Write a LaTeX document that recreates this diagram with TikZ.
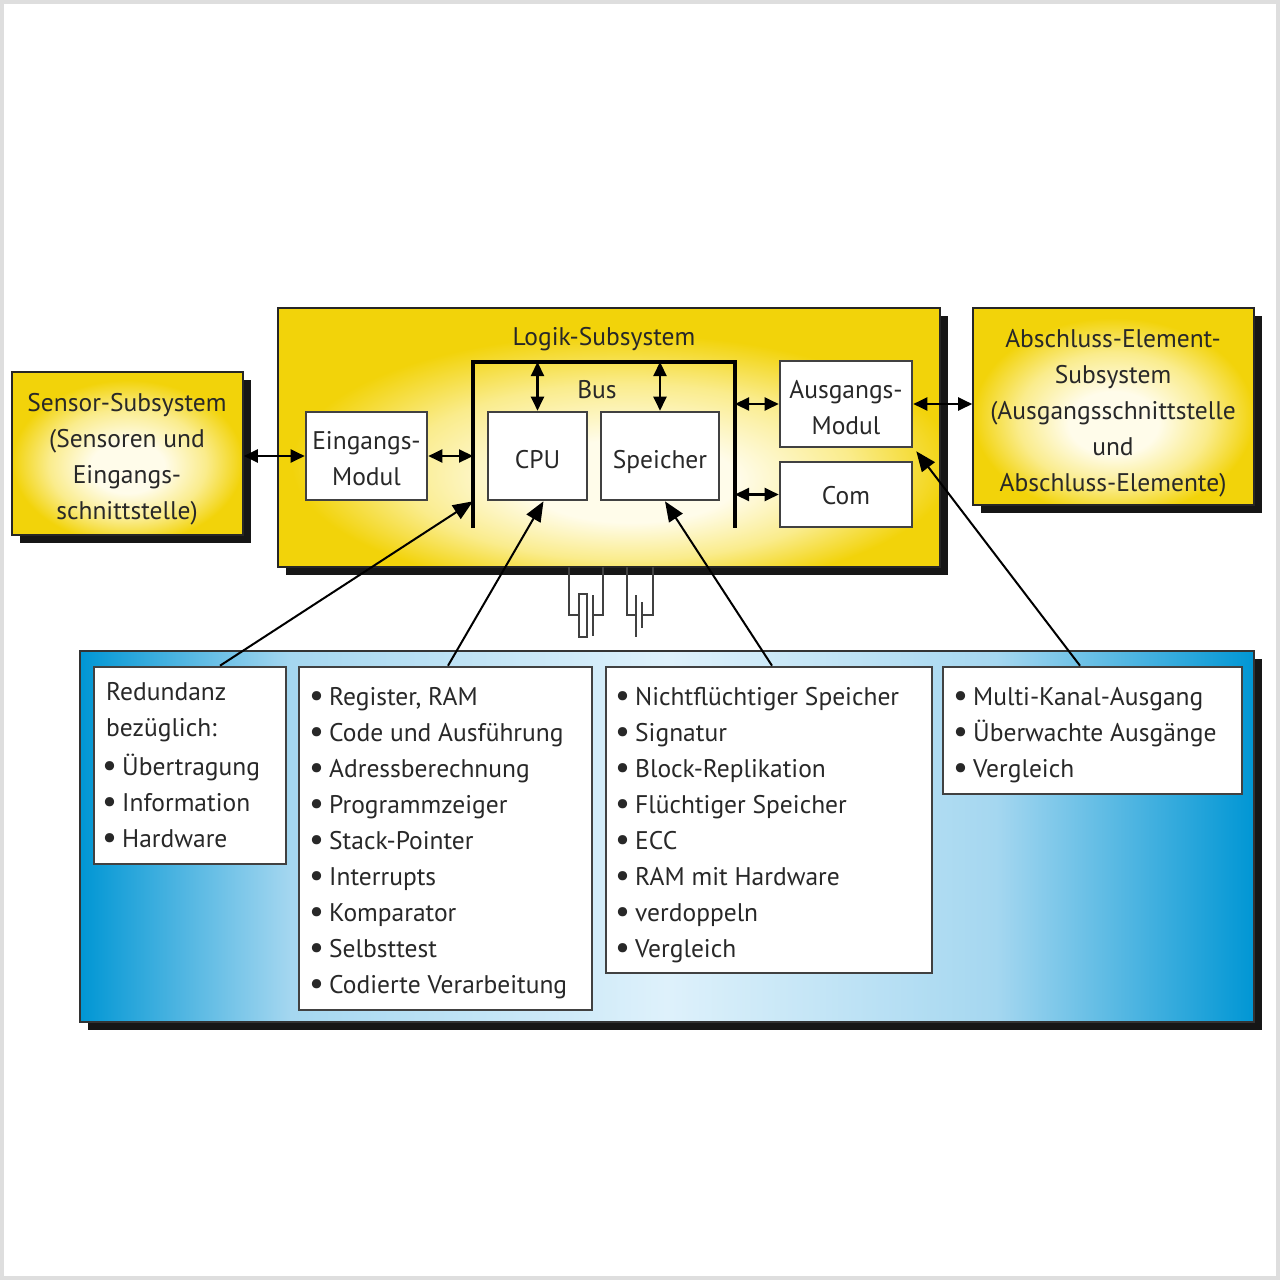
\documentclass[tikz,border=0pt]{standalone}
\usepackage{fontspec}
\setmainfont{PT Sans}
\usetikzlibrary{arrows.meta,shadows,calc}
\definecolor{yedge}{RGB}{242,211,10}
\definecolor{ymid}{RGB}{250,236,140}
\definecolor{ycen}{RGB}{255,252,234}
\definecolor{bedge}{RGB}{0,150,212}
\definecolor{bmid}{RGB}{165,215,240}
\definecolor{bcen}{RGB}{222,241,251}
\definecolor{txt}{RGB}{40,40,40}
\definecolor{framec}{RGB}{222,222,222}
\definecolor{boxline}{RGB}{65,65,65}
\definecolor{shadowc}{RGB}{22,22,22}
\pgfdeclareradialshading{yelsh}{\pgfpoint{0bp}{-5bp}}{color(0bp)=(ycen); color(8bp)=(ycen); color(17bp)=(ymid); color(25bp)=(yedge); color(50bp)=(yedge)}
\pgfdeclareradialshading{yelshlow}{\pgfpoint{2bp}{-10bp}}{color(0bp)=(ycen); color(8bp)=(ycen); color(17bp)=(ymid); color(25bp)=(yedge); color(50bp)=(yedge)}
\pgfdeclarehorizontalshading{bluesh}{100bp}{color(0bp)=(bedge); color(25bp)=(bedge); color(34bp)=(bmid); color(50bp)=(bcen); color(64bp)=(bmid); color(75bp)=(bedge); color(100bp)=(bedge)}
\newcommand{\bul}{\llap{\raisebox{-1.5pt}{\scalebox{1.3}{•}}\hspace{5pt}}}
\tikzset{
  ybox/.style={draw=black!85, line width=1.6pt, shade, shading=yelsh,
    general shadow={fill=shadowc, shadow xshift=8pt, shadow yshift=-8pt}, inner sep=0pt},
  bbox/.style={draw=black!80, line width=1.6pt, shade, shading=bluesh,
    general shadow={fill=shadowc, shadow xshift=8pt, shadow yshift=-8pt}, inner sep=0pt},
  wbox/.style={draw=boxline, line width=2.6pt, fill=white, inner sep=0pt},
  txtn/.style={text=txt, font=\fontsize{25.5}{30}\selectfont, inner sep=0pt, anchor=base},
  itemn/.style={txtn, anchor=base west},
  dbl/.style={{Triangle[length=14pt,width=13pt]}-{Triangle[length=14pt,width=13pt]}, line width=2.2pt, draw=black},
  bigarrow/.style={-{Triangle[length=20pt,width=16pt]}, line width=2pt, draw=black},
  busline/.style={line width=4pt, draw=black, line join=miter},
  wire/.style={line width=2pt, draw=black!75}
}
\begin{document}
\begin{tikzpicture}[x=1pt,y=-1pt]
\useasboundingbox (0,0) rectangle (1280,1280);
\fill[white] (0,0) rectangle (1280,1280);
\draw[framec, line width=4pt] (2,2) rectangle (1278,1278);

% main boxes
\node[ybox, minimum width=231, minimum height=163] (sensor) at (127.5,453.5) {};
\node[ybox, shading=yelshlow, minimum width=662, minimum height=259] (logik) at (609,437.5) {};
\node[ybox, minimum width=281, minimum height=197] (absch) at (1113.5,406.5) {};
\node[bbox, minimum width=1174, minimum height=371] (blue) at (667,836.5) {};

% crystal and battery symbols
\draw[wire] (569,567) -- (569,615) -- (579,615);
\draw[wire] (579,594) rectangle (587,637);
\draw[wire] (593,595) -- (593,636);
\draw[wire] (603,567) -- (603,615) -- (593,615);
\draw[wire] (627,567) -- (627,615) -- (636,615);
\draw[wire] (636,595) -- (636,637);
\draw[wire] (642,602) -- (642,628);
\draw[wire] (653,567) -- (653,615) -- (642,615);

% texts of yellow boxes
\node[txtn] (s1) at (127,411) {Sensor-Subsystem};
\node[txtn] (s2) at (127,447) {(Sensoren und};
\node[txtn] (s3) at (127,483) {Eingangs-};
\node[txtn] (s4) at (127,519) {schnittstelle)};
\node[txtn] (lt) at (604,345) {Logik-Subsystem};
\node[txtn] (a1) at (1113,347) {Abschluss-Element-};
\node[txtn] (a2) at (1113,383) {Subsystem};
\node[txtn] (a3) at (1113,419) {(Ausgangsschnittstelle};
\node[txtn] (a4) at (1113,455) {und};
\node[txtn] (a5) at (1113,491) {Abschluss-Elemente)};

% bus
\coordinate (busL) at (473,362);
\coordinate (busR) at (735,362);
\coordinate (busLb) at (473,528);
\coordinate (busRb) at (735,528);
\draw[busline] (busLb) -- (busL) -- (busR) -- (busRb);
\node[txtn] (bus) at (597,398) {Bus};

% inner boxes
\node[wbox, minimum width=121, minimum height=88] (eing) at (366.5,456) {};
\node[wbox, minimum width=99, minimum height=88] (cpu) at (537.5,456) {};
\node[wbox, minimum width=118, minimum height=88] (spei) at (660,456) {};
\node[wbox, minimum width=132, minimum height=86] (ausg) at (846,404) {};
\node[wbox, minimum width=132, minimum height=65] (com) at (846,494.5) {};
\node[txtn] (e1) at (366.5,449) {Eingangs-};
\node[txtn] (e2) at (366.5,485) {Modul};
\node[txtn] (cput) at (537.5,468) {CPU};
\node[txtn] (speit) at (660,468) {Speicher};
\node[txtn] (au1) at (846,398) {Ausgangs-};
\node[txtn] (au2) at (846,434) {Modul};
\node[txtn] (comt) at (846,504) {Com};

% double arrows
\draw[dbl] (sensor.east |- eing.west) -- (eing.west);
\draw[dbl] (eing.east) -- (eing.east -| busL);
\draw[dbl] (cpu.north) -- (cpu.north |- busL);
\draw[dbl] (spei.north) -- (spei.north |- busL);
\draw[dbl] (ausg.west -| busR) -- (ausg.west);
\draw[dbl] (com.west -| busR) -- (com.west);
\draw[dbl] (ausg.east) -- (ausg.east -| absch.west);

% list boxes
\node[wbox, minimum width=192, minimum height=197] (box1) at (190,765.5) {};
\node[wbox, minimum width=293, minimum height=343] (box2) at (445.5,838.5) {};
\node[wbox, minimum width=326, minimum height=306] (box3) at (769,820) {};
\node[wbox, minimum width=299, minimum height=127] (box4) at (1092.5,730.5) {};

\node[itemn] (r1) at (106,700) {Redundanz};
\node[itemn] (r2) at (106,736) {bezüglich:};
\node[itemn] (r3) at (122,775) {\bul Übertragung};
\node[itemn] (r4) at (122,811) {\bul Information};
\node[itemn] (r5) at (122,847) {\bul Hardware};

\foreach \t [count=\i] in {{Register, RAM},{Code und Ausführung},{Adressberechnung},{Programmzeiger},{Stack-Pointer},{Interrupts},{Komparator},{Selbsttest},{Codierte Verarbeitung}}
  \node[itemn] (c\i) at (329,669+36*\i) {\bul\t};
\foreach \t [count=\i] in {{Nichtflüchtiger Speicher},{Signatur},{Block-Replikation},{Flüchtiger Speicher},{ECC},{RAM mit Hardware},{verdoppeln},{Vergleich}}
  \node[itemn] (m\i) at (635,669+36*\i) {\bul\t};
\foreach \t [count=\i] in {{Multi-Kanal-Ausgang},{Überwachte Ausgänge},{Vergleich}}
  \node[itemn] (o\i) at (973,669+36*\i) {\bul\t};

% connectors from list boxes
\draw[bigarrow] ($(box1.north)+(30,0)$) -- (busL |- cpu.south);
\draw[bigarrow] ($(box2.north)+(2.5,0)$) -- ($(cpu.south)+(6,0)$);
\draw[bigarrow] ($(box3.north)+(3,0)$) -- ($(spei.south)+(5,0)$);
\draw[bigarrow] ($(box4.north)+(-12.5,0)$) -- ($(ausg.south east)+(3,3)$);
\end{tikzpicture}
\end{document}
